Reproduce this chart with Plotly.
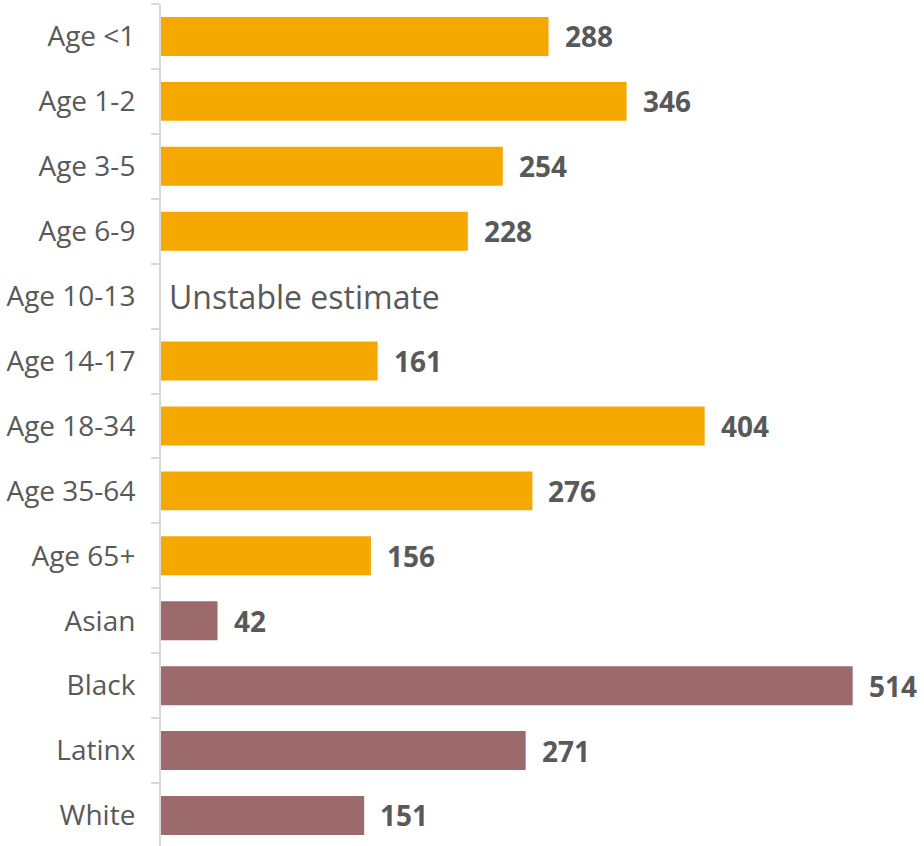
import plotly.graph_objects as go

categories = ["Age <1", "Age 1-2", "Age 3-5", "Age 6-9", "Age 10-13", "Age 14-17",
              "Age 18-34", "Age 35-64", "Age 65+", "Asian", "Black", "Latinx", "White"]
values = [288, 346, 254, 228, None, 161, 404, 276, 156, 42, 514, 271, 151]
groups = ["age"] * 9 + ["race"] * 4
group_colors = {"age": "#F5A800", "race": "#9C6A6A"}
unstable_label = "Unstable estimate"

colors = [group_colors[g] for g in groups]

fig = go.Figure(go.Bar(
    x=values, y=categories, orientation="h",
    marker=dict(color=colors, line=dict(width=0)),
    width=0.6,
))

for c, v in zip(categories, values):
    if v is None:
        fig.add_annotation(x=0, y=c, text=unstable_label, showarrow=False,
                           xanchor="left", xshift=6,
                           font=dict(family="Open Sans", size=32, color="#595959"))
    else:
        fig.add_annotation(x=v, y=c, text=f"<b>{v}</b>", showarrow=False,
                           xanchor="left", xshift=14,
                           font=dict(family="Open Sans", size=28, color="#595959"))

fig.update_layout(
    width=924, height=846,
    margin=dict(l=161, r=0, t=4, b=0, autoexpand=False),
    plot_bgcolor="white", paper_bgcolor="white",
    showlegend=False,
    bargap=0.4,
)
fig.update_xaxes(range=[0, 567], visible=False)
fig.update_yaxes(
    range=[len(categories) - 0.53, -0.5],
    showline=True, linecolor="#D9D9D9", linewidth=2,
    ticks="outside", tickson="boundaries", ticklen=8, tickcolor="#D9D9D9", tickwidth=2,
    tickfont=dict(family="Open Sans", size=28, color="#595959"),
    ticklabelstandoff=18,
    showgrid=False,
)

fig.write_html("out.html", config={"displayModeBar": False},
               post_script="document.body.style.margin='0';")
